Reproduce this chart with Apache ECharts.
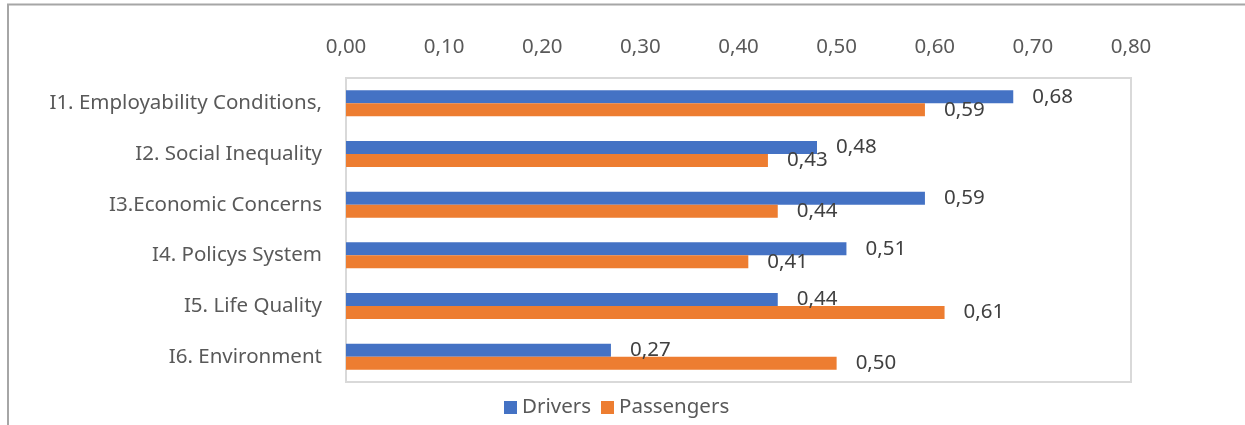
<!DOCTYPE html>
<html lang="en">
  <head>
    <meta charset="UTF-8" />
    <title>Drivers vs Passengers</title>
    <script src="https://cdn.jsdelivr.net/npm/echarts@6/dist/echarts.min.js"></script>
    <style>
      html, body { margin: 0; padding: 0; background: #fff; }
      #main { width: 1245px; height: 425px; }
    </style>
  </head>
  <body>
    <div id="main"></div>
    <script>
      // categories, top to bottom
      var categories = [
        "I1. Employability Conditions,",
        "I2. Social Inequality",
        "I3.Economic Concerns",
        "I4. Policys System",
        "I5. Life Quality",
        "I6. Environment"
      ];
      var drivers = [0.68, 0.48, 0.59, 0.51, 0.44, 0.27];
      var passengers = [0.59, 0.43, 0.44, 0.41, 0.61, 0.50];

      var font = "Noto Sans";
      var size = 20.5;
      var fmt = function (v) { return v.toFixed(2).replace(".", ","); };

      var chart = echarts.init(document.getElementById("main"));

      var barLabel = {
        show: true,
        position: "right",
        distance: 19,
        color: "#404040",
        fontFamily: font,
        fontSize: size,
        formatter: function (p) { return fmt(p.value); }
      };

      chart.setOption({
        animation: false,
        textStyle: { fontFamily: font },
        grid: {
          left: 346,
          right: 114,
          top: 78,
          bottom: 43,
          show: true,
          borderColor: "#d9d9d9",
          borderWidth: 2
        },
        legend: {
          left: 499,
          top: 392,
          itemWidth: 13,
          itemHeight: 13,
          itemGap: 10,
          icon: "rect",
          textStyle: { color: "#595959", fontSize: size, fontFamily: font },
          data: ["Drivers", "Passengers"]
        },
        xAxis: {
          type: "value",
          position: "top",
          min: 0,
          max: 0.8,
          interval: 0.1,
          splitLine: { show: false },
          axisLine: { show: false },
          axisTick: { show: false },
          axisLabel: {
            margin: 20,
            color: "#595959",
            fontSize: size,
            fontFamily: font,
            formatter: fmt
          }
        },
        yAxis: {
          type: "category",
          inverse: true,
          data: categories,
          axisLine: { show: false },
          axisTick: { show: false },
          axisLabel: {
            margin: 24,
            color: "#595959",
            fontSize: size,
            fontFamily: font,
            padding: [0, 0, 4, 0]
          }
        },
        series: [
          {
            name: "Drivers",
            type: "bar",
            data: drivers,
            barWidth: 13,
            barGap: "0%",
            itemStyle: { color: "#4472C4" },
            label: barLabel
          },
          {
            name: "Passengers",
            type: "bar",
            data: passengers,
            barWidth: 13,
            barGap: "0%",
            itemStyle: { color: "#ED7D31" },
            label: barLabel
          }
        ],
        graphic: [
          // outer frame lines from the cropped figure
          { type: "line", shape: { x1: 7, y1: 4.5, x2: 1245, y2: 4.5 }, style: { stroke: "#a6a6a6", lineWidth: 2 } },
          { type: "line", shape: { x1: 8, y1: 4, x2: 8, y2: 425 }, style: { stroke: "#a6a6a6", lineWidth: 2 } }
        ]
      });
    </script>
  </body>
</html>
